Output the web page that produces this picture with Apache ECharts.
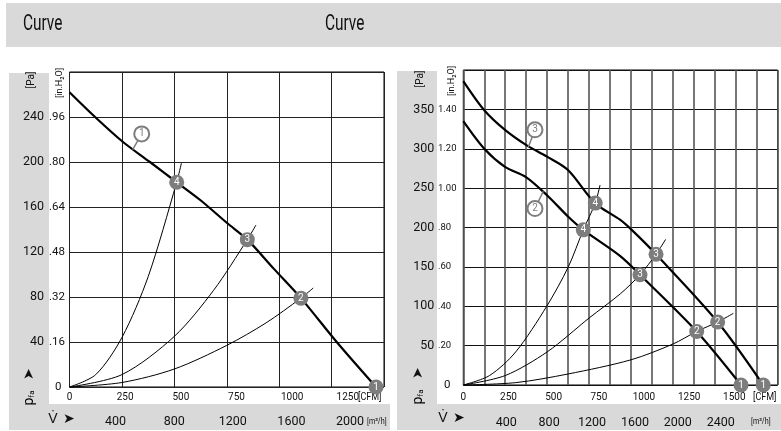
<!DOCTYPE html>
<html>
<head>
<meta charset="utf-8">
<script src="https://cdn.jsdelivr.net/npm/echarts@6/dist/echarts.min.js"></script>
<style>
  body { margin: 0; background: #fff; }
  #chart { width: 781px; height: 431px; }
</style>
</head>
<body>
<div id="chart"></div>
<script>
// ---- data (flow in m³/h, pressure in Pa) ----
// left chart
var leftFan1 = [[0, 262], [195, 240], [406, 218], [614, 200], [818, 182], [1000, 166], [1200, 146], [1357, 131], [1560, 105], [1766, 79], [2039, 40], [2339, 0]];
var leftSys4 = [[0, 0], [200, 11], [400, 44], [600, 98], [818, 182], [854, 199]];
var leftSys3 = [[0, 0], [400, 11], [800, 45], [1100, 86], [1357, 131], [1423, 144]];
var leftSys2 = [[0, 0], [400, 4], [800, 16], [1200, 37], [1500, 57], [1766, 79], [1860, 88]];
var leftPoints = [[818, 182, "4"], [1357, 131, "3"], [1766, 79, "2"], [2339, 0, "1"]];
var leftTags = [[551, 225, "1"]];
var leftLeader = [[482, 211], [551, 225]];

// right chart
var rightFan3 = [[0, 386], [200, 349], [398, 324], [598, 305], [799, 290], [999, 273], [1257, 231], [1495, 210], [1607, 197], [1839, 166], [2427, 80], [2862, 0]];
var rightFan2 = [[0, 335], [200, 300], [398, 277], [598, 264], [799, 241], [999, 214], [1145, 197], [1495, 164], [1686, 140], [2227, 68], [2650, 0]];
var rightSys4 = [[0, 0], [250, 12], [500, 42], [796, 100], [1002, 150], [1145, 197], [1259, 231], [1305, 254]];
var rightSys3 = [[0, 0], [400, 12], [800, 42], [1200, 85], [1500, 116], [1686, 140], [1839, 166], [1931, 185]];
var rightSys2 = [[0, 0], [500, 3], [1000, 14], [1600, 32], [2000, 52], [2227, 68], [2427, 80], [2577, 91]];
var rightPoints = [[1145, 197, "4"], [1686, 140, "3"], [2227, 68, "2"], [2650, 0, "1"],
                   [1259, 231, "4"], [1839, 166, "3"], [2427, 80, "2"], [2862, 0, "1"]];
var rightTags = [[684, 324, "3"], [684, 224, "2"]];
var rightLeader3 = [[620, 302], [684, 324]];
var rightLeader2 = [[763, 246], [684, 224]];

// tick labels
var leftPaLabels = ["", "40", "80", "120", "160", "200", "240", ""];
var leftInLabels = ["0", ".16", ".32", ".48", ".64", ".80", ".96", ""];
var rightPaLabels = ["", "50", "100", "150", "200", "250", "300", "350", ""];
var rightInLabels = ["0", ".20", ".40", ".60", ".80", "1.00", "1.20", "1.40", ""];
var leftFlowLabels = [400, 800, 1200, 1600, 2000];
var rightFlowLabels = [400, 800, 1200, 1600, 2000, 2400];

var FONT = "Roboto, 'Liberation Sans', sans-serif";
var GRAY = "#7d7d7d";

var myChart = echarts.init(document.getElementById("chart"));

function plain(v) {
  return String(v);
}
function flowAxis(g, max, interval, lineColor, lineWidth) {
  return {
    type: "value", gridIndex: g, min: 0, max: max, interval: interval,
    axisLine: { show: false }, axisTick: { show: false }, axisLabel: { show: false },
    splitLine: { show: true, lineStyle: { color: lineColor, width: lineWidth } },
  };
}
function cfmAxis(g, max, margin) {
  return {
    type: "value", gridIndex: g, min: 0, max: max, interval: 250, position: "bottom",
    axisLine: { show: false }, axisTick: { show: false }, splitLine: { show: false },
    axisLabel: { margin: margin, fontSize: 10, color: "#111", fontFamily: FONT, showMaxLabel: false, formatter: plain },
  };
}
function stripAxis(g, min, max, values, margin) {
  return {
    type: "value", gridIndex: g, min: min, max: max, position: "bottom",
    axisLine: { show: false }, axisTick: { show: false }, splitLine: { show: false },
    axisLabel: { customValues: values, margin: margin, fontSize: 12.5, color: "#111", fontFamily: FONT, formatter: plain },
  };
}
function paAxis(g, max, interval, labels, margin, lineColor) {
  return {
    type: "value", gridIndex: g, min: 0, max: max, interval: interval, position: "left",
    axisLine: { show: false }, axisTick: { show: false },
    splitLine: { show: true, lineStyle: { color: lineColor, width: 1 } },
    axisLabel: {
      margin: margin, align: "right", fontSize: 12.5, color: "#111", fontFamily: FONT,
      formatter: function (v) { return labels[Math.round(v / interval)]; },
    },
  };
}
function inAxis(g, max, interval, labels, margin, fontSize) {
  return {
    type: "value", gridIndex: g, min: 0, max: max, interval: interval, position: "left",
    axisLine: { show: false }, axisTick: { show: false }, splitLine: { show: false },
    axisLabel: {
      margin: margin, align: "left", fontSize: fontSize, color: "#111", fontFamily: FONT,
      formatter: function (v) {
        var s = labels[Math.round(v / interval)];
        return s === "0" ? "{z|0}" : s;
      },
      rich: { z: { padding: [0, 0, 0, 6], fontSize: 11.5, fontFamily: FONT, color: "#111" } },
    },
  };
}
function curve(data, xi, yi, width) {
  return {
    type: "line", xAxisIndex: xi, yAxisIndex: yi, data: data, smooth: 0.3, showSymbol: false,
    symbol: "none", lineStyle: { color: "#000", width: width }, z: 3, silent: true,
  };
}
function leader(data, xi, yi) {
  return {
    type: "line", xAxisIndex: xi, yAxisIndex: yi, data: data, showSymbol: false, symbol: "none",
    lineStyle: { color: GRAY, width: 1.5 }, z: 4, silent: true,
  };
}
function markers(data, xi, yi) {
  return {
    type: "scatter", xAxisIndex: xi, yAxisIndex: yi, data: data, symbolSize: 15, z: 6, silent: true,
    itemStyle: { color: GRAY, opacity: 1 },
    label: { show: true, position: "inside", formatter: function (p) { return p.data[2]; },
      color: "#fff", fontSize: 10, fontFamily: FONT },
  };
}
function tags(data, xi, yi) {
  return {
    type: "scatter", xAxisIndex: xi, yAxisIndex: yi, data: data, symbolSize: 15, z: 6, silent: true,
    itemStyle: { color: "#fff", borderColor: GRAY, borderWidth: 2, opacity: 1 },
    label: { show: true, position: "inside", formatter: function (p) { return p.data[2]; },
      color: GRAY, fontSize: 10, fontFamily: FONT },
  };
}
function txt(x, y, text, size, extra, align) {
  var el = {
    type: "text", x: x, y: y, silent: true,
    style: { text: text, fontSize: size, fontFamily: FONT, fill: "#111", align: align || "center", verticalAlign: "middle" },
  };
  if (extra) {
    for (var k in extra) el[k] = extra[k];
  }
  return el;
}
function rect(x, y, w, h, color) {
  return { type: "rect", shape: { x: x, y: y, width: w, height: h }, style: { fill: color }, silent: true, z: -10 };
}
function pfa(x, y) {
  return {
    type: "text", x: x, y: y, rotation: Math.PI / 2, silent: true,
    style: { text: "{a|p}{s|fa}", align: "center", verticalAlign: "middle",
      rich: { a: { fontSize: 14, fontFamily: FONT, color: "#111" }, s: { fontSize: 8, fontFamily: FONT, color: "#111", verticalAlign: "bottom" } } },
  };
}

var option = {
  animation: false,
  backgroundColor: "#fff",
  grid: [
    { left: 69.5, top: 72, width: 314.5, height: 315, show: true, borderColor: "#000", borderWidth: 1, backgroundColor: "transparent" },
    { left: 463.3, top: 70, width: 314.4, height: 315, show: true, borderColor: "#000", borderWidth: 1, backgroundColor: "transparent" },
  ],
  xAxis: [
    flowAxis(0, 2400, 400, "#222", 1),
    cfmAxis(0, 1412.6, 5),
    stripAxis(0, 85.5, 2232, leftFlowLabels, 28),
    flowAxis(1, 3000, 200, "#555", 1.6),
    cfmAxis(1, 1740, 7),
    stripAxis(1, 0, 2931, rightFlowLabels, 31),
  ],
  yAxis: [
    paAxis(0, 280, 40, leftPaLabels, 25.5, "#222"),
    inAxis(0, 280, 40, leftInLabels, 20.5, 11.5),
    paAxis(1, 400, 50, rightPaLabels, 29, "#111"),
    inAxis(1, 400, 50, rightInLabels, 25.3, 9.5),
  ],
  graphic: [
    rect(6, 3, 775, 44, "#d9d9d9"),
    rect(9, 73, 40, 357, "#d9d9d9"),
    rect(9, 404, 381, 26, "#d9d9d9"),
    rect(397, 71, 40, 359, "#d9d9d9"),
    rect(397, 404, 384, 26, "#d9d9d9"),
    txt(23, 24, "Curve", 22, { scaleX: 0.7 }, "left"),
    txt(325, 24, "Curve", 22, { scaleX: 0.7 }, "left"),
    txt(31, 80, "[Pa]", 10, { rotation: Math.PI / 2 }),
    txt(60, 83, "[in.H\u2082O]", 9, { rotation: Math.PI / 2 }),
    txt(420, 79, "[Pa]", 10, { rotation: Math.PI / 2 }),
    txt(452, 81, "[in.H\u2082O]", 9, { rotation: Math.PI / 2 }),
    txt(29, 374, "\u27A4", 14, { rotation: Math.PI / 2 }),
    txt(418, 373, "\u27A4", 14, { rotation: Math.PI / 2 }),
    pfa(29, 398),
    pfa(418, 397),
    txt(53, 419, "V\u0307", 14),
    txt(69, 419, "\u27A4", 14),
    txt(443, 418, "V\u0307", 14),
    txt(459, 418, "\u27A4", 14),
    txt(358, 397, "[CFM]", 10, { scaleX: 0.9 }, "left"),
    txt(753, 397, "[CFM]", 10, { scaleX: 0.9 }, "left"),
    txt(367, 422, "[m\u00B3/h]", 9, { scaleX: 0.8 }, "left"),
    txt(751, 422, "[m\u00B3/h]", 9, { scaleX: 0.8 }, "left"),
  ],
  series: [
    curve(leftSys4, 0, 0, 1),
    curve(leftSys3, 0, 0, 1),
    curve(leftSys2, 0, 0, 1),
    curve(leftFan1, 0, 0, 2.2),
    leader(leftLeader, 0, 0),
    tags(leftTags, 0, 0),
    markers(leftPoints, 0, 0),

    curve(rightSys4, 3, 2, 1),
    curve(rightSys3, 3, 2, 1),
    curve(rightSys2, 3, 2, 1),
    curve(rightFan3, 3, 2, 2.2),
    curve(rightFan2, 3, 2, 2.2),
    leader(rightLeader3, 3, 2),
    leader(rightLeader2, 3, 2),
    tags(rightTags, 3, 2),
    markers(rightPoints, 3, 2),
  ],
};
myChart.setOption(option);
</script>
</body>
</html>
